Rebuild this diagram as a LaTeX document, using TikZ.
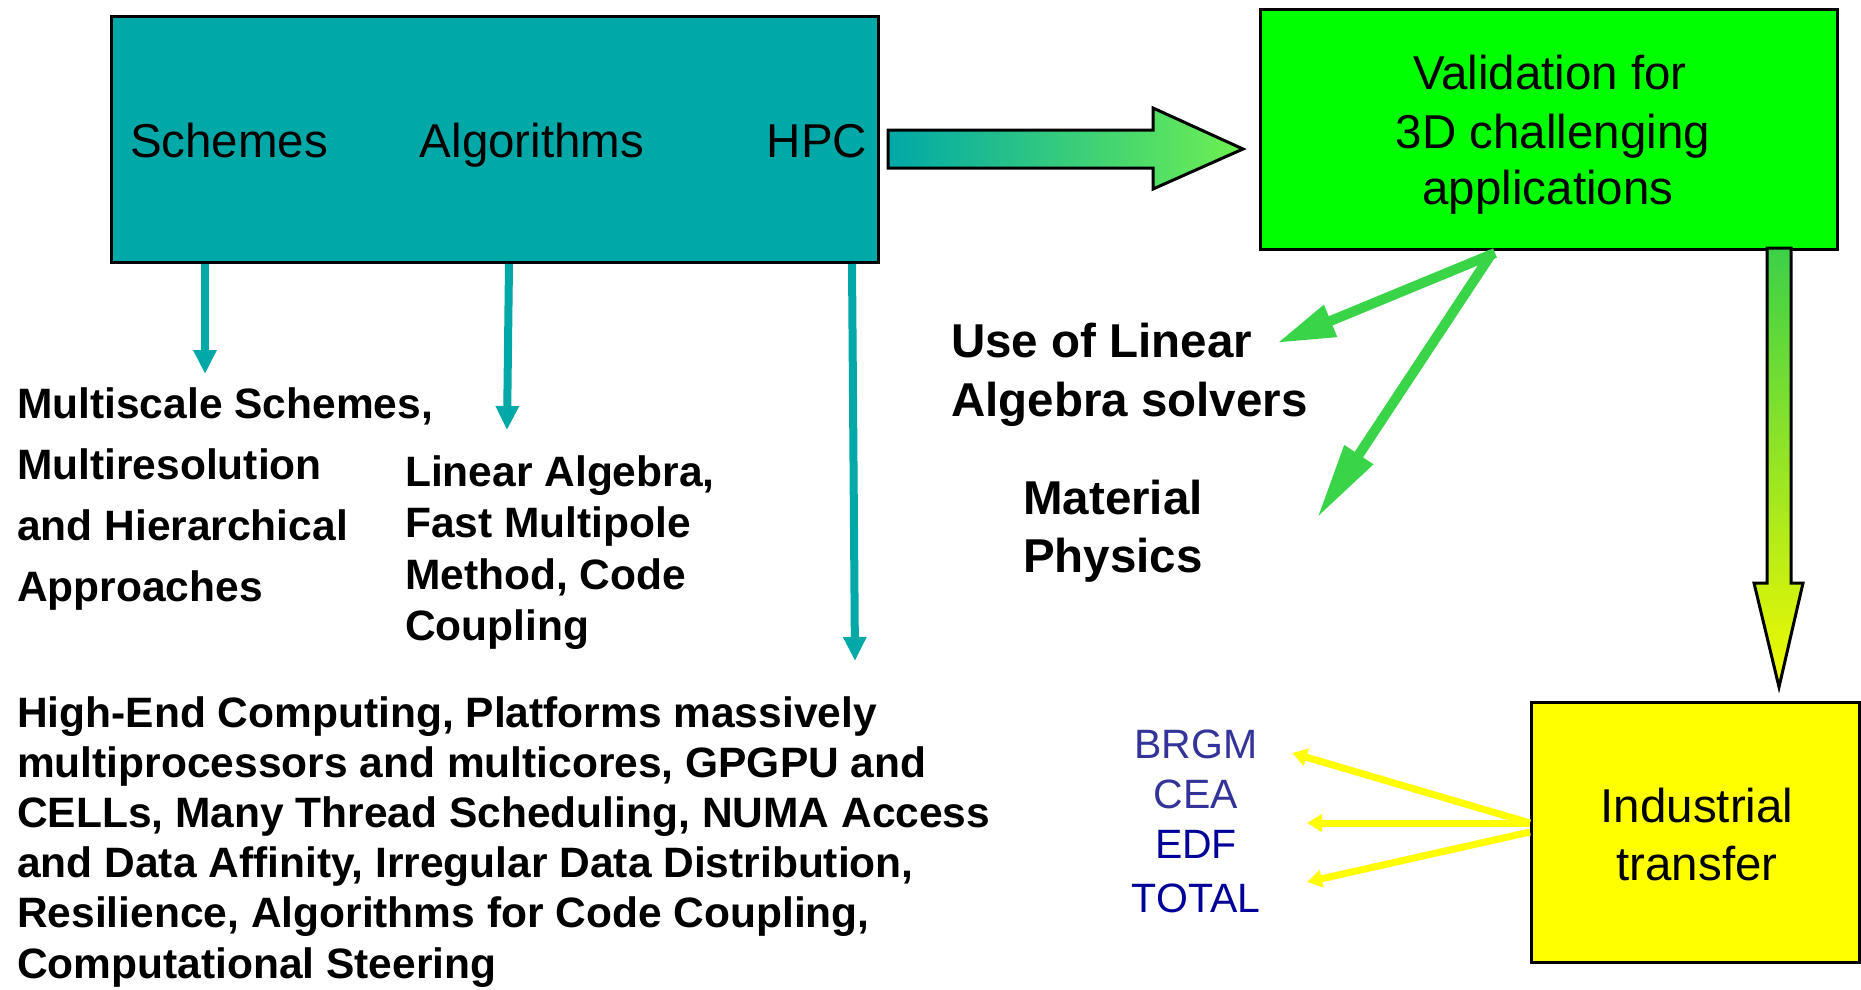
\documentclass[tikz,border=0pt]{standalone}
\usepackage{fontspec}
\setmainfont{Liberation Sans}
\usetikzlibrary{arrows.meta,calc}
\definecolor{tealc}{RGB}{0,168,168}
\definecolor{boxgreen}{RGB}{0,255,0}
\definecolor{arrgreen}{RGB}{58,212,72}
\definecolor{ltgreen}{RGB}{110,240,80}
\definecolor{dkblue}{RGB}{0,0,153}
\definecolor{mdblue}{RGB}{51,51,153}
\definecolor{ylw}{RGB}{255,255,0}
\definecolor{dngreen}{RGB}{60,208,72}
\definecolor{dnyellow}{RGB}{242,250,0}
\begin{document}
\begin{tikzpicture}[x=1pt,y=-1pt,
  box/.style={draw=black, line width=3pt, inner sep=0pt, anchor=north west},
  lbl/.style={inner sep=0pt, anchor=base, font=\fontsize{47.5}{57}\selectfont},
  boldtxt/.style={inner sep=0pt, anchor=base west, font=\fontsize{42.5}{51}\selectfont\bfseries},
  boldbig/.style={inner sep=0pt, anchor=base west, font=\fontsize{47.5}{57}\selectfont\bfseries},
  org/.style={inner sep=0pt, anchor=base, font=\fontsize{41}{50}\selectfont},
  tarrow/.style={draw=tealc, line width=8pt, -{Triangle[length=24pt,width=22pt]}},
  garrow/.style={draw=arrgreen, line width=10pt},
  yarrow/.style={draw=ylw, line width=7pt, -{Triangle[length=15pt,width=17pt]}},
  blockarrow/.style={draw=black, line width=3pt, line join=miter}
]
\useasboundingbox (0,0) rectangle (1861,989);

% boxes
\node[box, fill=tealc, minimum width=767pt, minimum height=246pt] (teal) at (110,15) {};
\node[box, fill=boxgreen, minimum width=577pt, minimum height=240pt] (green) at (1259,8) {};
\node[box, fill=ylw, minimum width=328pt, minimum height=260pt] (yellow) at (1530,701) {};

% labels in boxes
\node[lbl] (schemes) at (229,157) {Schemes};
\node[lbl] (algos) at (532,157) {Algorithms};
\node[lbl] (hpc) at (817,157) {HPC};
\node[lbl] (val1) at (1550,89) {Validation for};
\node[lbl] (val2) at (1553,148) {3D challenging};
\node[lbl] (val3) at (1548,204) {applications};
\node[lbl] (ind1) at (1697,822) {Industrial};
\node[lbl] (ind2) at (1697,880) {transfer};

% block arrow teal -> green
\path[blockarrow, left color=tealc, right color=ltgreen]
  (888,130) -- (1153,130) -- (1153,108) -- (1243,149) -- (1153,189)
  -- (1153,168) -- (888,168) -- cycle;

% block arrow green -> yellow
\path[blockarrow, top color=dngreen, bottom color=dnyellow]
  (1767,248) -- (1791,248) -- (1791,583) -- (1803,583) -- (1779,687)
  -- (1754,583) -- (1767,583) -- cycle;

% thin teal arrows
\coordinate (t1) at (205,374);
\coordinate (t2) at (507,430);
\coordinate (t3) at (855,661);
\draw[tarrow] (t1 |- teal.south) -- (t1);
\draw[tarrow] ($(teal.south west)+(399,0)$) -- (t2);
\draw[tarrow] ($(teal.south west)+(742,0)$) -- (t3);

% green arrows
\coordinate (gA) at (1277,343);
\coordinate (gB) at (1317,518);
\draw[garrow, -{Triangle[length=58pt,width=32pt]}] ($(green.south west)+(236,2)$) -- (gA);
\draw[garrow, -{Triangle[length=76pt,width=32pt]}] ($(green.south west)+(233,2)$) -- (gB);

% yellow arrows
\coordinate (yA) at (1292,753);
\coordinate (yB) at (1307,823);
\coordinate (yC) at (1307,882);
\draw[yarrow] ($(yellow.north west)+(0,122)$) -- (yA);
\draw[yarrow] ($(yellow.north west)+(0,122)$) -- (yB);
\draw[yarrow] ($(yellow.north west)+(0,131)$) -- (yC);

% bold texts
\foreach \t [count=\i] in {{Multiscale Schemes,},{Multiresolution},{and Hierarchical},{Approaches}}
  \node[boldtxt] (ms\i) at (17,{418+61*(\i-1)}) {\t};
\foreach \t [count=\i] in {{Linear Algebra,},{Fast Multipole},{Method, Code},{Coupling}}
  \node[boldtxt] (la\i) at (405,{486+51.5*(\i-1)}) {\t};
\foreach \t [count=\i] in {{High-End Computing, Platforms massively},{multiprocessors and multicores, GPGPU and},{CELLs, Many Thread Scheduling, NUMA Access},{and Data Affinity, Irregular Data Distribution,},{Resilience, Algorithms for Code Coupling,},{Computational Steering}}
  \node[boldtxt] (hp\i) at (17,{727+50.2*(\i-1)}) {\t};

\node[boldbig] (use1) at (951,357) {Use of Linear};
\node[boldbig] (use2) at (951,416) {Algebra solvers};
\node[boldbig] (mat1) at (1023,514) {Material};
\node[boldbig] (mat2) at (1023,572) {Physics};

% organisations
\node[org, text=mdblue] (brgm) at (1196,758) {BRGM};
\node[org, text=mdblue] (cea) at (1196,808) {CEA};
\node[org, text=dkblue] (edf) at (1196,858) {EDF};
\node[org, text=dkblue] (total) at (1196,912) {TOTAL};
\end{tikzpicture}
\end{document}
